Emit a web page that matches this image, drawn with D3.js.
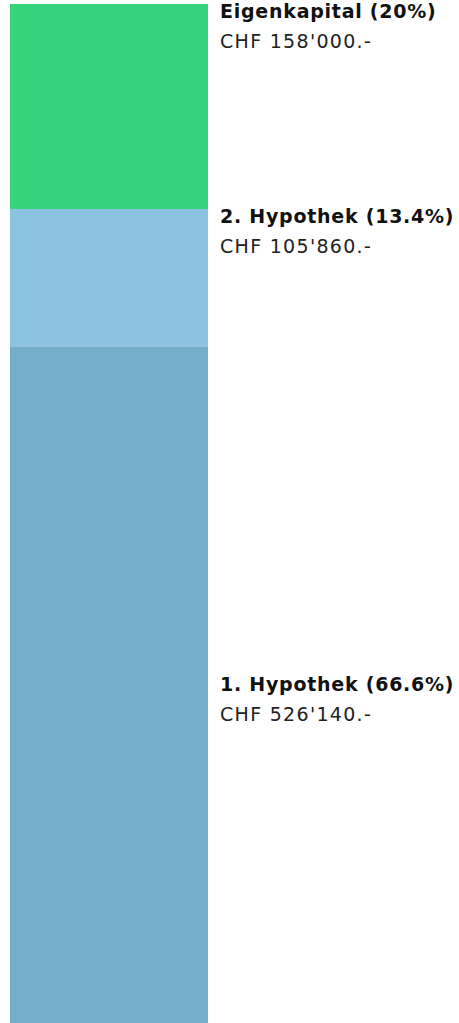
<!DOCTYPE html>
<html>
<head>
<meta charset="utf-8">
<script src="https://cdn.jsdelivr.net/npm/d3@7"></script>
<style>
  body { margin: 0; background: #fff; }
  svg { display: block; }
  .title { font-family: "DejaVu Sans", sans-serif; font-weight: bold; font-size: 19px; letter-spacing: 0.75px; fill: #111; }
  .amount { font-family: "DejaVu Sans", sans-serif; font-size: 19px; letter-spacing: 1.3px; fill: #222; }
</style>
</head>
<body>
<div id="vis"></div>
<script>
// finanzierung, von oben nach unten
var names = ["Eigenkapital", "2. Hypothek", "1. Hypothek"];
var amounts = [158000, 105860, 526140];
var shares = ["20%", "13.4%", "66.6%"];
var colors = ["#36d47a", "#8bc3e0", "#75aecb"];

var opts = {
  "width": 459,
  "height": 1023,
  "bar_x": 10,
  "bar_w": 198,
  "top": 4,
  "bottom": 1029,   // balken laeuft unten etwas aus dem bild
  "label_x": 220
};

var svg = d3.select("#vis")
  .append("svg")
  .attr("width", opts.width)
  .attr("height", opts.height);

var total = d3.sum(amounts);
var y = d3.scaleLinear().domain([0, total]).range([opts.top, opts.bottom]);

var segs = [];
var cum = 0;
amounts.forEach(function(v, i) {
  segs.push({ name: names[i], value: v, share: shares[i], color: colors[i], y0: cum, y1: cum + v });
  cum += v;
});

var fmt = function(v) { return d3.format(",")(v).replace(/,/g, "'"); };

svg.selectAll(".seg")
  .data(segs)
  .enter()
  .append("rect")
  .attr("class", "seg")
  .attr("x", opts.bar_x)
  .attr("width", opts.bar_w)
  .attr("y", function(d) { return y(d.y0); })
  .attr("height", function(d) { return y(d.y1) - y(d.y0); })
  .attr("fill", function(d) { return d.color; });

// kleine segmente: label oben, grosse: label in der mitte
var labels = svg.selectAll(".lbl")
  .data(segs)
  .enter()
  .append("g")
  .attr("class", "lbl")
  .attr("transform", function(d) {
    var top = y(d.y0), bot = y(d.y1);
    var ty = (d.value / total > 0.5) ? (top + bot) / 2 - 15 : top - 4;
    return "translate(" + opts.label_x + "," + ty + ")";
  });

labels.append("text")
  .attr("class", "title")
  .attr("y", 18)
  .text(function(d) { return d.name + " (" + d.share + ")"; });

labels.append("text")
  .attr("class", "amount")
  .attr("y", 48)
  .text(function(d) { return "CHF " + fmt(d.value) + ".-"; });
</script>
</body>
</html>
